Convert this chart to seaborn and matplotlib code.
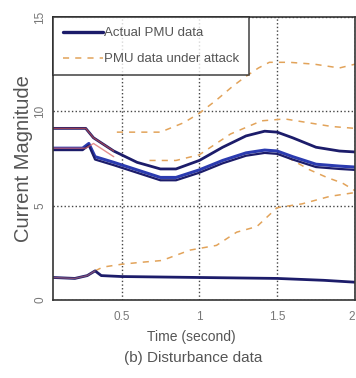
import matplotlib
matplotlib.use("Agg")
import matplotlib.pyplot as plt
import seaborn as sns
from matplotlib.lines import Line2D

# ---- data ----
t_upper = [0.06, 0.27, 0.32, 0.45, 0.60, 0.75, 0.85, 1.00, 1.15, 1.30, 1.42, 1.50, 1.60, 1.75, 1.90, 2.00]
v_upper = [9.1, 9.1, 8.6, 7.9, 7.3, 6.95, 6.95, 7.4, 8.1, 8.7, 8.95, 8.9, 8.6, 8.1, 7.9, 7.85]

t_mid = [0.06, 0.25, 0.29, 0.33, 0.45, 0.60, 0.75, 0.85, 1.00, 1.15, 1.30, 1.42, 1.50, 1.60, 1.75, 1.90, 2.00]
v_mid = [8.05, 8.05, 8.3, 7.6, 7.3, 6.9, 6.5, 6.5, 6.9, 7.4, 7.8, 7.95, 7.9, 7.6, 7.2, 7.1, 7.05]
v_mid2 = [7.95, 7.95, 8.2, 7.45, 7.15, 6.75, 6.35, 6.35, 6.75, 7.25, 7.65, 7.8, 7.75, 7.45, 7.05, 6.95, 6.9]

t_low = [0.06, 0.20, 0.28, 0.33, 0.37, 0.50, 1.00, 1.50, 1.80, 2.00]
v_low = [1.2, 1.15, 1.3, 1.55, 1.3, 1.25, 1.2, 1.15, 1.05, 0.95]

t_atkA = [0.33, 0.38, 0.50, 0.62, 0.76, 0.94, 1.11, 1.24, 1.37, 1.50, 1.66, 1.84, 2.00]
v_atkA = [1.55, 1.75, 1.9, 2.0, 2.1, 2.65, 2.9, 3.6, 3.9, 4.9, 5.1, 5.5, 5.7]

t_atkB = [0.47, 0.75, 0.90, 1.00, 1.11, 1.21, 1.29, 1.38, 1.45, 1.58, 1.74, 1.90, 2.00]
v_atkB = [8.9, 8.9, 9.4, 9.9, 10.6, 11.3, 11.8, 12.3, 12.6, 12.6, 12.5, 12.3, 12.5]

t_atkC = [0.68, 0.85, 1.00, 1.20, 1.40, 1.55, 1.70, 1.85, 2.00]
v_atkC = [7.4, 7.4, 7.7, 8.8, 9.5, 9.6, 9.4, 9.2, 9.1]

t_atkD = [1.50, 1.58, 1.71, 1.82, 1.92, 2.00]
v_atkD = [7.9, 7.5, 6.9, 6.5, 6.2, 5.8]

t_red = [0.06, 0.27, 0.32, 0.45]
v_red_up = [9.1, 9.1, 8.6, 7.9]
v_red_mid = [8.05, 8.05, 8.3, 7.6]

x_ticks = [0.5, 1, 1.5, 2]
x_ticklabels = ["0.5", "1", "1.5", "2"]
y_ticks = [0, 5, 10, 15]
y_ticklabels = ["0", "5", "10", "15"]

legend_labels = ["Actual PMU data", "PMU data under attack"]

# ---- plotting ----
sns.set_style("white")
plt.rcParams["font.family"] = ["Liberation Sans", "DejaVu Sans"]

fig = plt.figure(figsize=(3.56, 3.78), dpi=100)
ax = fig.add_axes([0.149, 0.206, 0.848, 0.749])

navy = "#1c1c6a"
blue = "#2b3bb0"
orange = "#e2a35a"

for t, v in [(t_atkA, v_atkA), (t_atkB, v_atkB), (t_atkC, v_atkC), (t_atkD, v_atkD)]:
    sns.lineplot(x=t, y=v, ax=ax, color=orange, lw=1.1, linestyle=(0, (4, 4)),
                 sort=False, estimator=None)

sns.lineplot(x=t_upper, y=v_upper, ax=ax, color=navy, lw=2.0, sort=False, estimator=None)
sns.lineplot(x=t_mid, y=v_mid, ax=ax, color=blue, lw=2.2, sort=False, estimator=None)
sns.lineplot(x=t_mid, y=v_mid2, ax=ax, color=navy, lw=1.6, sort=False, estimator=None)
sns.lineplot(x=t_low, y=v_low, ax=ax, color=navy, lw=2.0, sort=False, estimator=None)
sns.lineplot(x=t_red, y=v_red_up, ax=ax, color="#c85050", lw=1.0, alpha=0.7, sort=False, estimator=None)
sns.lineplot(x=t_red, y=v_red_mid, ax=ax, color="#d86060", lw=1.0, alpha=0.7, sort=False, estimator=None)
sns.lineplot(x=t_low[:4], y=v_low[:4], ax=ax, color="#c07080", lw=1.0, alpha=0.6, sort=False, estimator=None)

ax.set_xlim(0.06, 2.0)
ax.set_ylim(0, 15)
ax.set_xticks(x_ticks)
ax.set_xticklabels(x_ticklabels)
ax.get_xticklabels()[-1].set_horizontalalignment("right")
ax.set_yticks(y_ticks)
ax.set_yticklabels(y_ticklabels, rotation=90, va="center")
ax.tick_params(axis="both", labelsize=8.5, colors="#333333", labelcolor="#777777",
               direction="in", length=3, width=1)
ax.tick_params(axis="x", pad=8)
ax.tick_params(axis="y", pad=5)
ax.grid(True, color="#444444", linestyle=":", linewidth=1.0)
for s in ax.spines.values():
    s.set_color("#333333")
    s.set_linewidth(1.2)

ax.set_ylabel("Current Magnitude", fontsize=14.5, color="#555555", labelpad=1)
fig.text(0.538, 0.108, "Time (second)", fontsize=10, color="#555555", ha="center", va="center")
fig.text(0.543, 0.053, "(b) Disturbance data", fontsize=11, color="#555555", ha="center", va="center")

handles = [Line2D([], [], color=navy, lw=2.4),
           Line2D([], [], color=orange, lw=1.1, linestyle=(0, (4, 4)))]
leg = ax.legend(handles, legend_labels, loc="upper left", bbox_to_anchor=(0.0, 1.0),
                fontsize=9.5, frameon=True, fancybox=False, handlelength=3.0,
                labelspacing=1.05, borderpad=0.75, handletextpad=0.1, borderaxespad=0.0)
leg.get_frame().set_edgecolor("#222222")
leg.get_frame().set_linewidth(1.2)
for txt in leg.get_texts():
    txt.set_color("#555555")

fig.savefig("out.png", dpi=100)
